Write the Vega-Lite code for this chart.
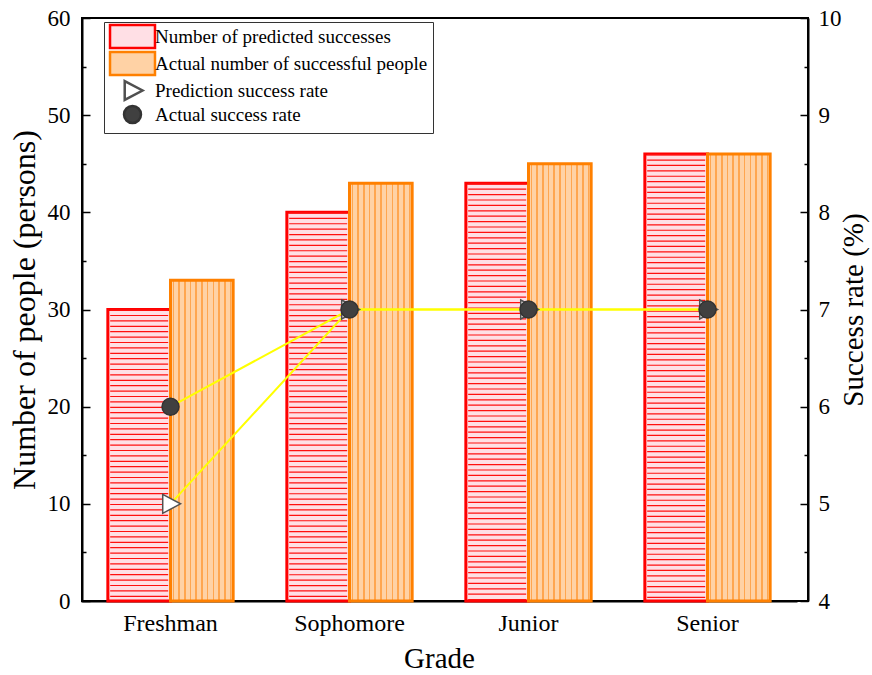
{
  "$schema": "https://vega.github.io/schema/vega-lite/v6.json",
  "width": 726,
  "height": 583,
  "autosize": "none",
  "padding": {"left": 82, "top": 18, "right": 64, "bottom": 74},
  "background": "white",
  "config": {
    "font": "Liberation Serif",
    "view": {"stroke": "black", "strokeWidth": 2},
    "axis": {
      "grid": false,
      "domainColor": "black",
      "domainWidth": 2,
      "tickColor": "black",
      "tickWidth": 1.5,
      "labelColor": "black",
      "titleColor": "black",
      "labelFont": "Liberation Serif",
      "titleFont": "Liberation Serif",
      "titleFontWeight": "normal"
    },
    "legend": {"labelFont": "Liberation Serif"}
  },
  "datasets": {
    "counts": [
      {"grade": "Freshman", "series": "Number of predicted successes", "count": 30},
      {"grade": "Freshman", "series": "Actual number of successful people", "count": 33},
      {"grade": "Sophomore", "series": "Number of predicted successes", "count": 40},
      {"grade": "Sophomore", "series": "Actual number of successful people", "count": 43},
      {"grade": "Junior", "series": "Number of predicted successes", "count": 43},
      {"grade": "Junior", "series": "Actual number of successful people", "count": 45},
      {"grade": "Senior", "series": "Number of predicted successes", "count": 46},
      {"grade": "Senior", "series": "Actual number of successful people", "count": 46}
    ],
    "rates": [
      {"grade": "Freshman", "series": "Prediction success rate", "rate": 5},
      {"grade": "Sophomore", "series": "Prediction success rate", "rate": 7},
      {"grade": "Junior", "series": "Prediction success rate", "rate": 7},
      {"grade": "Senior", "series": "Prediction success rate", "rate": 7},
      {"grade": "Freshman", "series": "Actual success rate", "rate": 6},
      {"grade": "Sophomore", "series": "Actual success rate", "rate": 7},
      {"grade": "Junior", "series": "Actual success rate", "rate": 7},
      {"grade": "Senior", "series": "Actual success rate", "rate": 7}
    ]
  },
  "layer": [
    {
      "data": {"name": "counts"},
      "encoding": {
        "x": {
          "field": "grade",
          "type": "nominal",
          "sort": ["Freshman", "Sophomore", "Junior", "Senior"],
          "scale": {"paddingInner": 0.3, "paddingOuter": 0.15, "range": [-1, 715]},
          "axis": {
            "title": "Grade",
            "titleFontSize": 29,
            "titleFont": "Liberation Serif",
            "labelFont": "Liberation Serif",
            "labelFontSize": 24,
            "labelAngle": 0,
            "tickSize": -8,
            "labelPadding": 18,
            "titlePadding": 9
          }
        },
        "xOffset": {
          "field": "series",
          "type": "nominal",
          "sort": ["Number of predicted successes", "Actual number of successful people"],
          "scale": {"domain": ["Number of predicted successes", "Actual number of successful people"], "paddingInner": 0, "paddingOuter": 0}
        },
        "y": {
          "field": "count",
          "type": "quantitative",
          "scale": {"domain": [0, 60], "nice": false},
          "axis": {
            "title": "Number of people (persons)",
            "titleFont": "Liberation Serif",
            "labelFont": "Liberation Serif",
            "titleFontSize": 32,
            "labelFontSize": 23,
            "values": [0, 5, 10, 15, 20, 25, 30, 35, 40, 45, 50, 55, 60],
            "labelExpr": "datum.value % 10 === 0 ? datum.label : ''",
            "tickSize": {"condition": {"test": "datum.value % 10 === 0", "value": -8}, "value": -4},
            "labelPadding": 20,
            "titlePadding": 6
          }
        }
      },
      "layer": [
        {
          "mark": {"type": "bar", "strokeWidth": 3, "strokeJoin": "miter"},
          "encoding": {
            "fill": {
              "condition": {
                "test": "datum.series === 'Actual number of successful people'",
                "value": {
                  "gradient": "linear", "x1": 0, "y1": 0, "x2": 1, "y2": 0,
                  "stops": [
                    {"offset": 0, "color": "#ffd2a5"},
                    {"offset": 0.035, "color": "#ffd2a5"}, {"offset": 0.035, "color": "#ffa64f"}, {"offset": 0.059, "color": "#ffa64f"}, {"offset": 0.059, "color": "#ffd2a5"},
                    {"offset": 0.126, "color": "#ffd2a5"}, {"offset": 0.126, "color": "#ffa64f"}, {"offset": 0.150, "color": "#ffa64f"}, {"offset": 0.150, "color": "#ffd2a5"},
                    {"offset": 0.217, "color": "#ffd2a5"}, {"offset": 0.217, "color": "#ffa64f"}, {"offset": 0.241, "color": "#ffa64f"}, {"offset": 0.241, "color": "#ffd2a5"},
                    {"offset": 0.308, "color": "#ffd2a5"}, {"offset": 0.308, "color": "#ffa64f"}, {"offset": 0.332, "color": "#ffa64f"}, {"offset": 0.332, "color": "#ffd2a5"},
                    {"offset": 0.399, "color": "#ffd2a5"}, {"offset": 0.399, "color": "#ffa64f"}, {"offset": 0.423, "color": "#ffa64f"}, {"offset": 0.423, "color": "#ffd2a5"},
                    {"offset": 0.490, "color": "#ffd2a5"}, {"offset": 0.490, "color": "#ffa64f"}, {"offset": 0.514, "color": "#ffa64f"}, {"offset": 0.514, "color": "#ffd2a5"},
                    {"offset": 0.581, "color": "#ffd2a5"}, {"offset": 0.581, "color": "#ffa64f"}, {"offset": 0.605, "color": "#ffa64f"}, {"offset": 0.605, "color": "#ffd2a5"},
                    {"offset": 0.672, "color": "#ffd2a5"}, {"offset": 0.672, "color": "#ffa64f"}, {"offset": 0.696, "color": "#ffa64f"}, {"offset": 0.696, "color": "#ffd2a5"},
                    {"offset": 0.763, "color": "#ffd2a5"}, {"offset": 0.763, "color": "#ffa64f"}, {"offset": 0.787, "color": "#ffa64f"}, {"offset": 0.787, "color": "#ffd2a5"},
                    {"offset": 0.854, "color": "#ffd2a5"}, {"offset": 0.854, "color": "#ffa64f"}, {"offset": 0.878, "color": "#ffa64f"}, {"offset": 0.878, "color": "#ffd2a5"},
                    {"offset": 0.945, "color": "#ffd2a5"}, {"offset": 0.945, "color": "#ffa64f"}, {"offset": 0.969, "color": "#ffa64f"}, {"offset": 0.969, "color": "#ffd2a5"},
                    {"offset": 1, "color": "#ffd2a5"}
                  ]
                }
              },
              "field": "series",
              "type": "nominal",
              "scale": {
                "domain": ["Number of predicted successes", "Actual number of successful people", "Prediction success rate", "Actual success rate"],
                "range": ["#ffdfe5", "#ffd2a5", "#ffffff", "#404040"]
              },
              "legend": {
                "title": null,
                "orient": "none",
                "legendX": 22,
                "legendY": 4,
                "padding": 5,
                "rowPadding": -11,
                "symbolOffset": 14,
                "labelOffset": 13,
                "symbolSize": 200,
                "symbolStrokeWidth": 2.5,
                "labelFontSize": 19,
                "labelFont": "Liberation Serif",
                "labelColor": "black",
                "labelLimit": 400,
                "strokeColor": "#333333",
                "fillColor": "white"
              }
            },
            "stroke": {
              "field": "series",
              "type": "nominal",
              "scale": {
                "domain": ["Number of predicted successes", "Actual number of successful people", "Prediction success rate", "Actual success rate"],
                "range": ["#ff0000", "#ff8000", "#505050", "#333333"]
              },
              "legend": {
                "title": null,
                "orient": "none",
                "legendX": 22,
                "legendY": 4,
                "padding": 5,
                "rowPadding": -11,
                "symbolOffset": 14,
                "labelOffset": 13,
                "symbolSize": 200,
                "symbolStrokeWidth": 2.5,
                "labelFontSize": 19,
                "labelFont": "Liberation Serif",
                "labelColor": "black",
                "labelLimit": 400,
                "strokeColor": "#333333",
                "fillColor": "white"
              }
            }
          }
        },
        {
          "transform": [{"filter": "datum.series === 'Number of predicted successes'"}],
          "mark": {"type": "rule", "strokeWidth": 58, "strokeDash": [1.2, 4.2], "strokeCap": "butt", "color": "#ff1010"},
          "encoding": {"y2": {"datum": 0}}
        }
      ]
    },
    {
      "data": {"name": "rates"},
      "encoding": {
        "x": {"field": "grade", "type": "nominal", "sort": ["Freshman", "Sophomore", "Junior", "Senior"]},
        "y": {
          "field": "rate",
          "type": "quantitative",
          "scale": {"domain": [4, 10], "nice": false},
          "axis": {
            "orient": "right",
            "title": "Success rate (%)",
            "titleFont": "Liberation Serif",
            "labelFont": "Liberation Serif",
            "titleFontSize": 29,
            "titleAngle": 270,
            "titleBaseline": "top",
            "labelFontSize": 23,
            "values": [4, 4.5, 5, 5.5, 6, 6.5, 7, 7.5, 8, 8.5, 9, 9.5, 10],
            "labelExpr": "datum.value % 1 === 0 ? format(datum.value, 'd') : ''",
            "tickSize": {"condition": {"test": "datum.value % 1 === 0", "value": -8}, "value": -4},
            "labelPadding": 18,
            "titlePadding": -2
          }
        }
      },
      "layer": [
        {
          "mark": {"type": "line", "color": "#ffff00", "strokeWidth": 2},
          "encoding": {"detail": {"field": "series", "type": "nominal"}}
        },
        {
          "mark": {"type": "point", "filled": true, "size": 200, "strokeWidth": 1.5, "opacity": 1},
          "encoding": {
            "shape": {
              "field": "series",
              "type": "nominal",
              "scale": {
                "domain": ["Number of predicted successes", "Actual number of successful people", "Prediction success rate", "Actual success rate"],
                "range": ["M-3.18,-1.63H3.18V1.63H-3.18Z", "M-3.18,-1.63H3.18V1.63H-3.18Z", "M-1.1,-1.34L1.42,0L-1.1,1.34Z", "M-1.2,0A1.2,1.2,0,1,1,1.2,0A1.2,1.2,0,1,1,-1.2,0Z"]
              },
              "legend": {
                "title": null,
                "orient": "none",
                "legendX": 22,
                "legendY": 4,
                "padding": 5,
                "rowPadding": -11,
                "symbolOffset": 14,
                "labelOffset": 13,
                "symbolSize": 200,
                "symbolStrokeWidth": 2.5,
                "labelFontSize": 19,
                "labelFont": "Liberation Serif",
                "labelColor": "black",
                "labelLimit": 400,
                "strokeColor": "#333333",
                "fillColor": "white"
              }
            },
            "fill": {"field": "series", "type": "nominal"},
            "stroke": {"field": "series", "type": "nominal"}
          }
        }
      ]
    }
  ],
  "resolve": {"scale": {"y": "independent"}}
}
